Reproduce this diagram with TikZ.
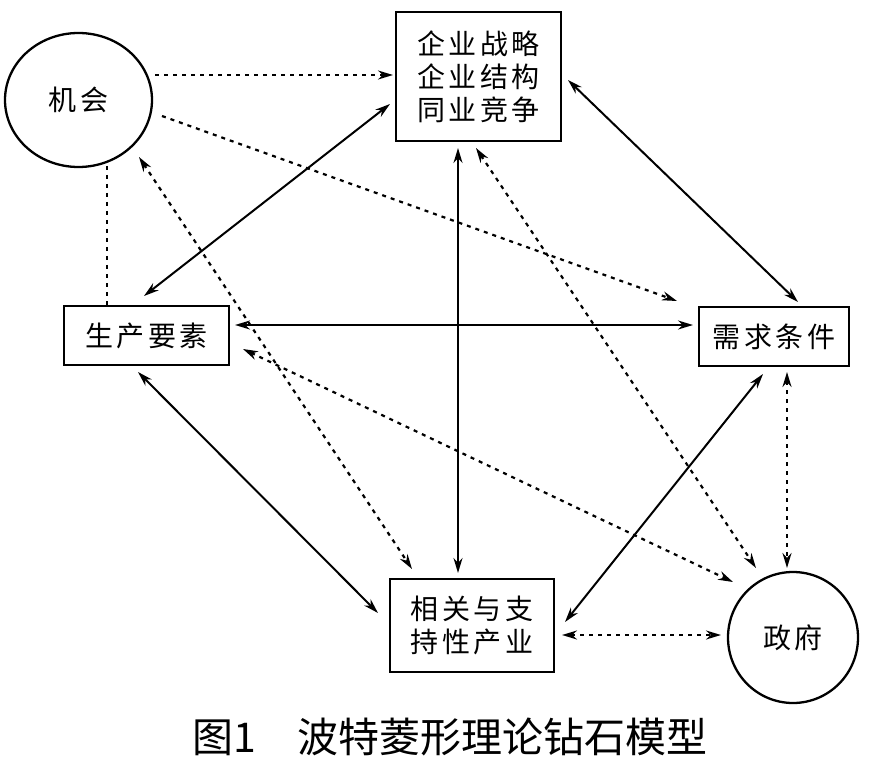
\documentclass[tikz,border=0pt]{standalone}
\usepackage{fontspec}
\newfontfamily\cjk{Noto Sans CJK SC}
\newfontfamily\cjkwide[LetterSpace=13]{Noto Sans CJK SC}
\usetikzlibrary{arrows.meta,calc,shapes.geometric}
\begin{document}
\begin{tikzpicture}[x=1pt,y=-1pt,
  box/.style={draw,line width=2.3pt,inner sep=0pt,align=center,font=\cjkwide\fontsize{28}{33}\selectfont},
  ring/.style={draw,ellipse,line width=2.3pt,inner sep=0pt,font=\cjkwide\fontsize{28}{33}\selectfont},
  link/.style={line width=2pt},
  dot/.style={line width=2.2pt,dash pattern=on 4pt off 5pt},
  tipend/.style={-{Stealth[length=15pt,width=9pt]}},
  tipboth/.style={{Stealth[length=15pt,width=9pt]}-{Stealth[length=15pt,width=9pt]}}]
\fill[white] (0,0) rectangle (872,759);
\useasboundingbox (0,0) rectangle (872,759);

\node[ring,minimum width=147pt,minimum height=134pt] (ch) at (78.5,100) {机会};
\node[box,minimum width=165pt,minimum height=129pt] (top) at (478.5,76.5) {企业战略\\企业结构\\同业竞争};
\node[box,minimum width=165pt,minimum height=59pt] (fp) at (146.5,335.5) {生产要素};
\node[box,minimum width=150pt,minimum height=59pt] (dc) at (774,336.5) {需求条件};
\node[box,minimum width=164pt,minimum height=93pt] (ri) at (472,625.5) {相关与支\\持性产业};
\node[ring,minimum width=130pt,minimum height=131pt] (gov) at (793,637.5) {政府};

% dotted connectors
\draw[dot,tipend] ([shift={(76.5,-25)}]ch.center) -- ([shift={(-85.5,-1.5)}]top.center);
\draw[dot,tipend] ([shift={(83.5,16)}]ch.center) -- ([shift={(-97,-35.5)}]dc.center);
\draw[dot] ([shift={(28.5,66)}]ch.center) -- ([shift={(-39.5,-30.5)}]fp.center);
\draw[dot,tipboth] ([shift={(60.5,57)}]ch.center) -- ([shift={(-60,-56.5)}]ri.center);
\draw[dot,tipboth] ([shift={(96.5,13.5)}]fp.center) -- ([shift={(-60,-55.5)}]gov.center);
\draw[dot,tipboth] ([shift={(-2.5,71.5)}]top.center) -- ([shift={(-37,-69.5)}]gov.center);
\draw[dot,tipboth] ([shift={(13,35.5)}]dc.center) -- ([shift={(-6,-69.5)}]gov.center);
\draw[dot,tipboth] ([shift={(90,9.5)}]ri.center) -- ([shift={(-72,-2.5)}]gov.center);

% solid connectors
\draw[link,tipboth] ([shift={(-2.5,-39.5)}]fp.center) -- ([shift={(-88.5,27.5)}]top.center);
\draw[link,tipboth] ([shift={(88.5,-10.5)}]fp.center) -- ([shift={(-81,-11.5)}]dc.center);
\draw[link,tipboth] ([shift={(-8.5,36.5)}]fp.center) -- ([shift={(-94,-12.5)}]ri.center);
\draw[link,tipboth] ([shift={(-20.5,71.5)}]top.center) -- ([shift={(-14,-52.5)}]ri.center);
\draw[link,tipboth] ([shift={(89.5,3.5)}]top.center) -- ([shift={(24,-34.5)}]dc.center);
\draw[link,tipboth] ([shift={(-11,37.5)}]dc.center) -- ([shift={(93,-3.5)}]ri.center);

\node[font=\cjk\fontsize{41}{48}\selectfont,inner sep=0pt] (cap) at (450,737) {图1\quad 波特菱形理论钻石模型};
\end{tikzpicture}
\end{document}
